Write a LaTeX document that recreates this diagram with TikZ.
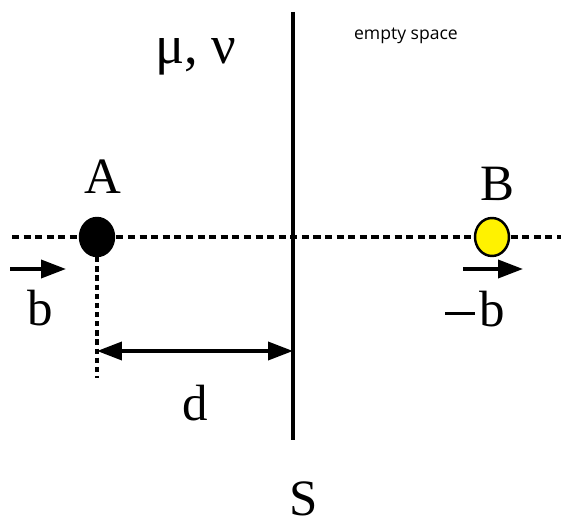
\documentclass[tikz,border=0pt]{standalone}
\usepackage{fontspec}
\setmainfont{Liberation Serif}
\newfontfamily\notefont{Open Sans}
\usetikzlibrary{arrows.meta,shapes.geometric}
\tikzstyle{charge}=[shape=ellipse, minimum width=0.68cm, minimum height=0.76cm, inner sep=0, draw=black, line width=1.4pt]
\tikzstyle{dashedge}=[line width=2.1pt, dash pattern=on 4pt off 2.6pt]
\tikzstyle{vdashedge}=[line width=2.1pt, dash pattern=on 3pt off 2.2pt]
\tikzstyle{lbl}=[font=\fontsize{29}{29}\selectfont, inner sep=0]
\tikzstyle{arr}=[line width=2.1pt, -{Triangle[length=0.5cm,width=0.36cm]}]

\begin{document}
\begin{tikzpicture}[x=0.02cm, y=-0.02cm]
\useasboundingbox (0,0) rectangle (561,523);
% interface
\coordinate (Stop) at (293,12);
\coordinate (Sbot) at (293,440);
\draw[line width=2.1pt] (Stop)--(Sbot);
% axis through both charges
\coordinate (axL) at (12,237);
\coordinate (axR) at (561,237);
\draw[dashedge] (axL)--(axR);
\node at (97,237)[charge, fill=black](A){};
\node at (492,237)[charge, fill=yellow](B){};
\node at (103,177)[lbl](Alab){A};
\node at (497,184)[lbl](Blab){B};
% velocities
\coordinate (b1) at (10,269);
\coordinate (b2) at (66,269);
\draw[arr] (b1)--(b2);
\node at (40,308)[lbl](blab){b};
\coordinate (mb1) at (463,269);
\coordinate (mb2) at (523,269);
\draw[arr] (mb1)--(mb2);
\node at (475,309)[lbl](mblab){\rule[0.23em]{0.58em}{0.045em}\kern0.08em b};
% distance
\coordinate (foot) at (97,378);
\draw[vdashedge] (A.south)--(foot);
\coordinate (d1) at (97,351);
\coordinate (d2) at (293,351);
\draw[line width=2.1pt, {Triangle[length=0.5cm,width=0.36cm]}-{Triangle[length=0.5cm,width=0.36cm]}] (d1)--(d2);
\node at (195,403)[lbl](dlab){d};
\node at (304,499)[lbl](Slab){S};
% media
\node at (196,57)[font=\fontsize{31}{31}\selectfont, inner sep=0](mat){μ, ν};
\node at (406,36)[font=\notefont\fontsize{10}{10}\selectfont, inner sep=0](vac){empty space};
\end{tikzpicture}
\end{document}
